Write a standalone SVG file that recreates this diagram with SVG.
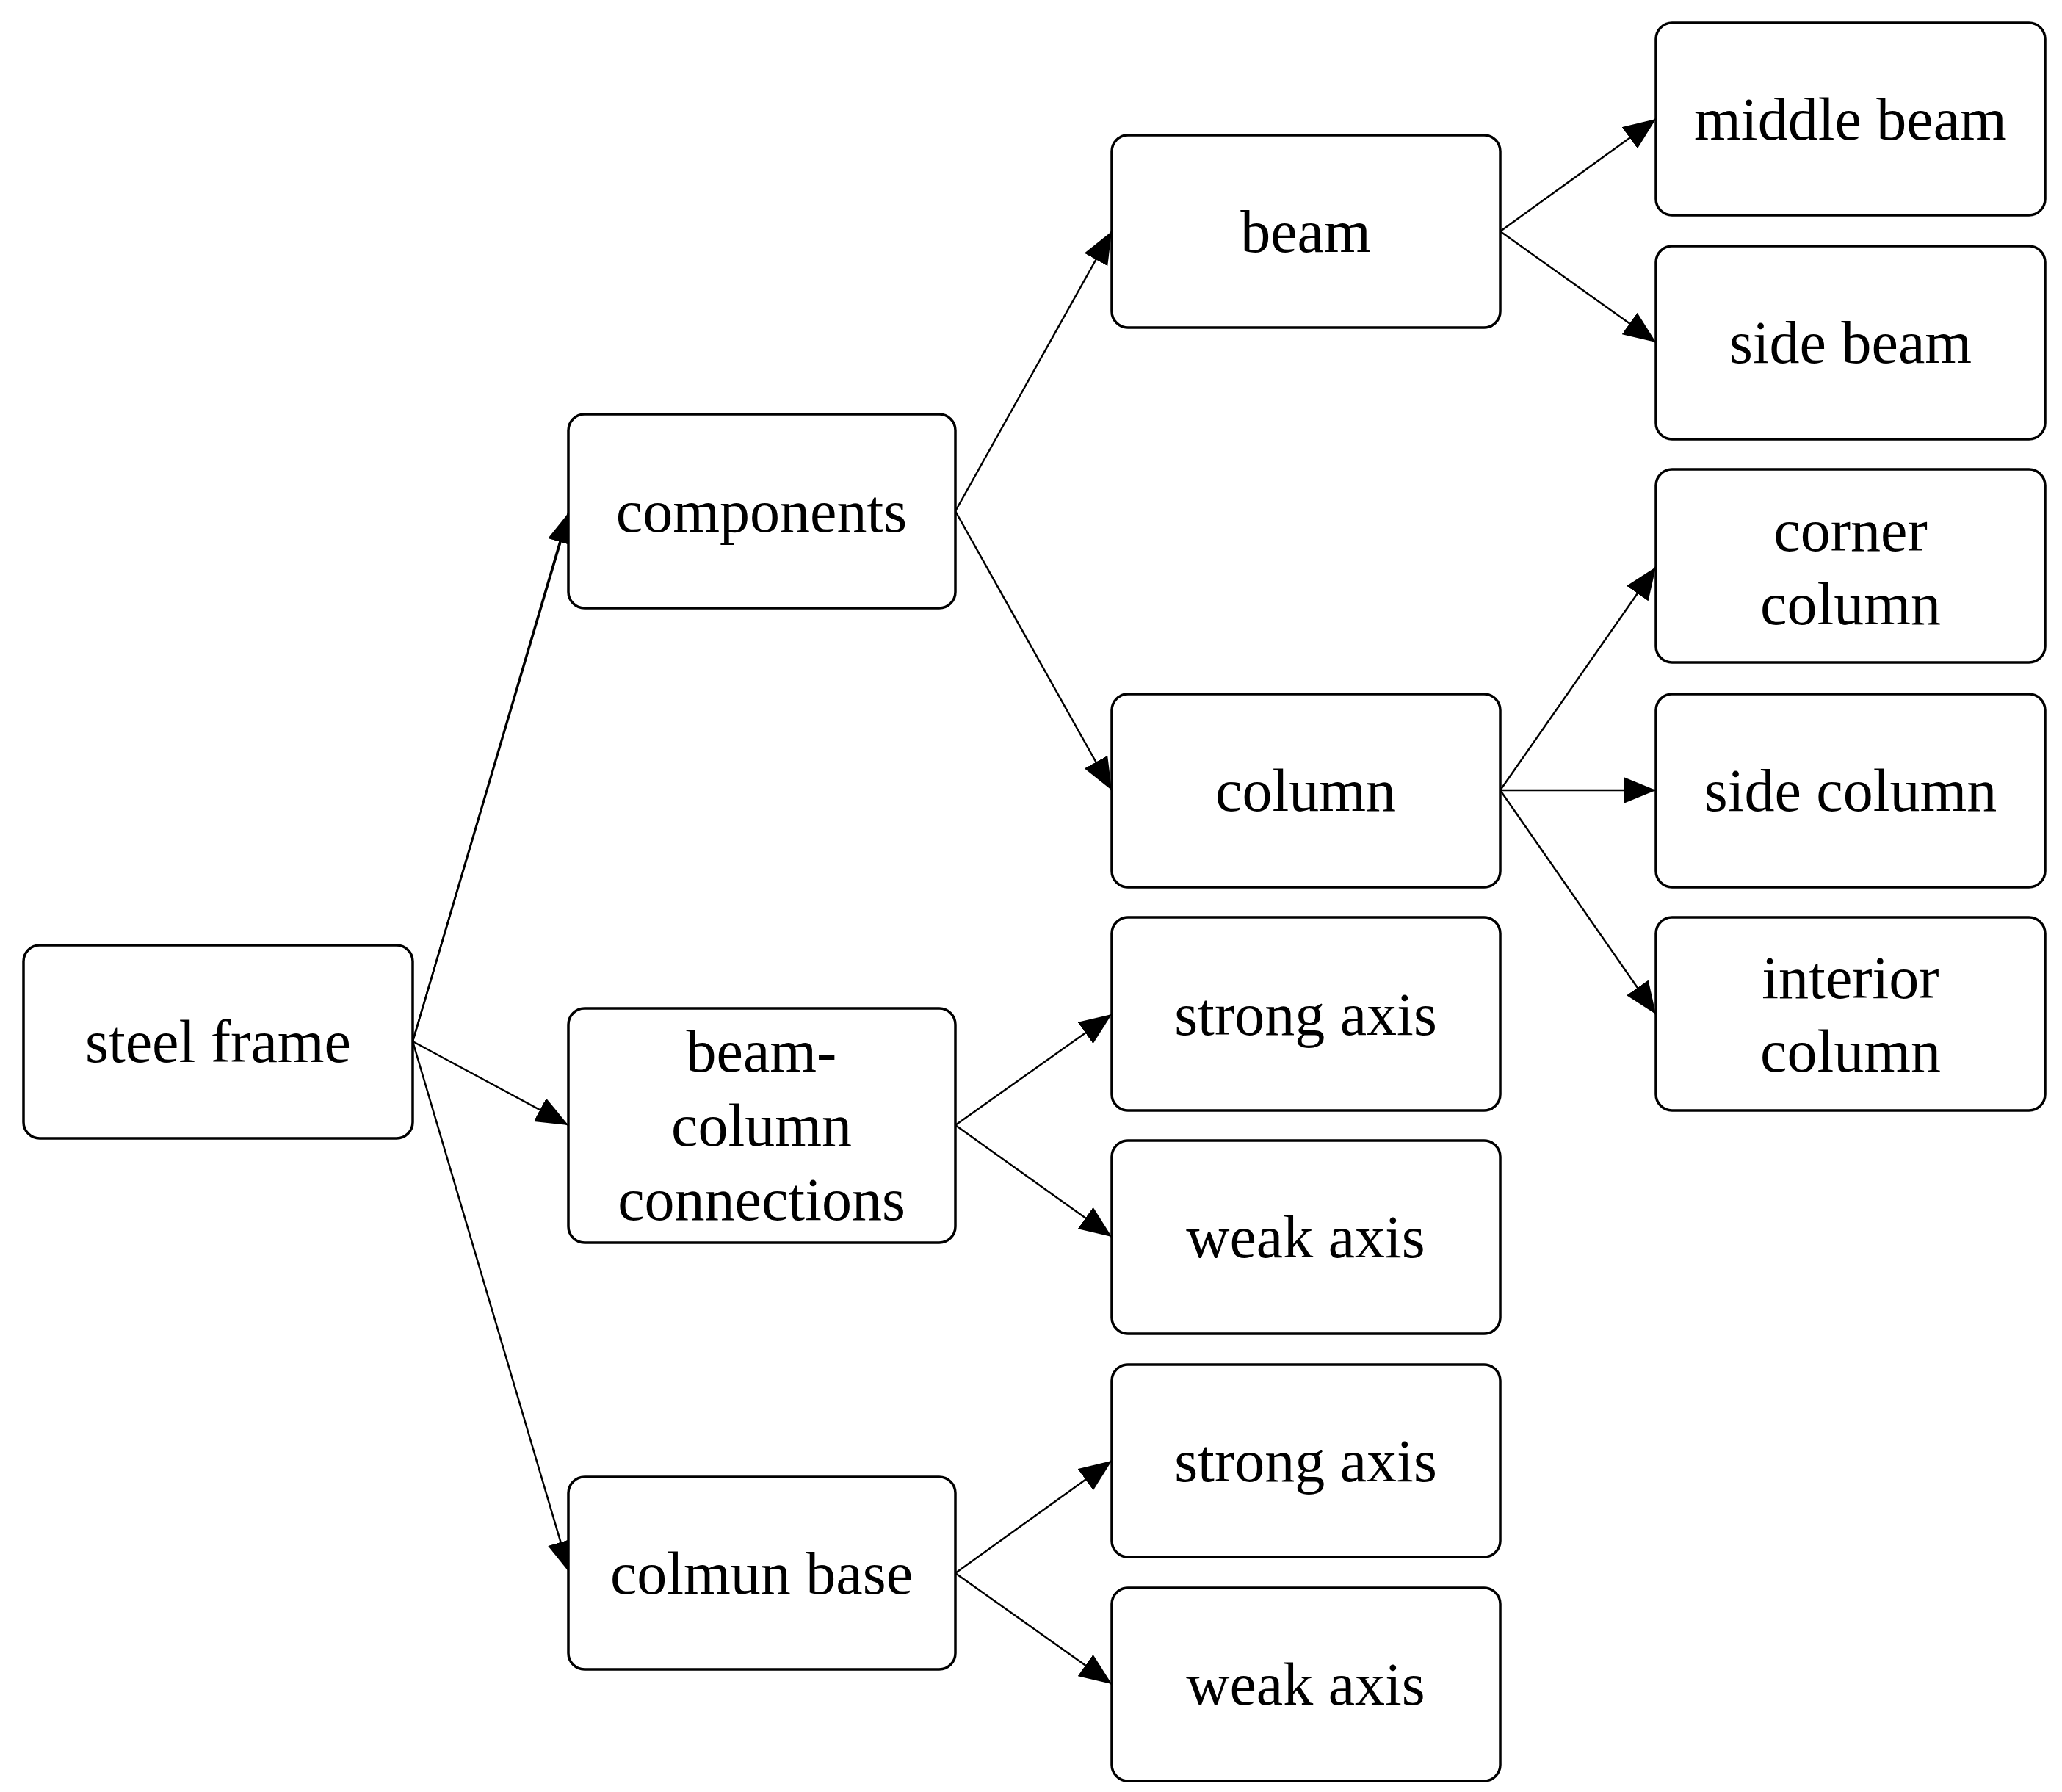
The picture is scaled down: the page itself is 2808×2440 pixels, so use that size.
<svg xmlns="http://www.w3.org/2000/svg" width="2808" height="2440" viewBox="0 0 2808 2440">
<style>
rect{fill:#fff;stroke:#000;stroke-width:3.5}
text{font-family:"Liberation Serif","DejaVu Serif",serif;font-size:82px;text-anchor:middle;dominant-baseline:central;fill:#000}
.c line{stroke:#000;stroke-width:2.5;marker-end:url(#a)}
</style>
<defs><marker id="a" markerWidth="14" markerHeight="12" refX="14" refY="6" orient="auto" markerUnits="userSpaceOnUse" viewBox="0 0 14 12"><path d="M0,0L14,6L0,12z" fill="#000"/></marker></defs>
<rect x="0" y="0" width="2808" height="2440" style="stroke:none"/>
<g class="c">
<line x1="562" y1="1418" x2="774" y2="698" style="marker-end:none"/>
</g>
<defs><marker id="b" markerWidth="44" markerHeight="36" refX="44" refY="18" orient="auto" markerUnits="userSpaceOnUse" viewBox="0 0 44 36"><path d="M0,0L44,18L0,36z" fill="#000"/></marker></defs>
<g id="connectors" style="stroke:#000;stroke-width:2.5;fill:none">
<line x1="562" y1="1418" x2="776" y2="696" marker-end="url(#b)"/>
<line x1="562" y1="1418" x2="774" y2="1532" marker-end="url(#b)"/>
<line x1="562" y1="1418" x2="776" y2="2142" marker-end="url(#b)"/>
<line x1="1301" y1="696" x2="1514" y2="315" marker-end="url(#b)"/>
<line x1="1301" y1="696" x2="1514" y2="1076" marker-end="url(#b)"/>
<line x1="2043" y1="315" x2="2255" y2="162" marker-end="url(#b)"/>
<line x1="2043" y1="315" x2="2255" y2="466" marker-end="url(#b)"/>
<line x1="2043" y1="1076" x2="2255" y2="772" marker-end="url(#b)"/>
<line x1="2043" y1="1076" x2="2255" y2="1076" marker-end="url(#b)"/>
<line x1="2043" y1="1076" x2="2255" y2="1381" marker-end="url(#b)"/>
<line x1="1301" y1="1532" x2="1514" y2="1381" marker-end="url(#b)"/>
<line x1="1301" y1="1532" x2="1514" y2="1684" marker-end="url(#b)"/>
<line x1="1301" y1="2142" x2="1514" y2="1989" marker-end="url(#b)"/>
<line x1="1301" y1="2142" x2="1514" y2="2293" marker-end="url(#b)"/>
</g>
<g id="n1"><rect x="32" y="1287" width="530" height="263" rx="22"/><text x="297" y="1418">steel frame</text></g>
<g id="n2"><rect x="774" y="564" width="527" height="264" rx="22"/><text x="1037" y="696">components</text></g>
<g id="n3"><rect x="774" y="1373" width="527" height="319" rx="22"/><text x="1037" y="1431">beam-</text><text x="1037" y="1532">column</text><text x="1037" y="1633">connections</text></g>
<g id="n4"><rect x="774" y="2011" width="527" height="262" rx="22"/><text x="1037" y="2142">colmun base</text></g>
<g id="n5"><rect x="1514" y="184" width="529" height="262" rx="22"/><text x="1778" y="315">beam</text></g>
<g id="n6"><rect x="1514" y="945" width="529" height="263" rx="22"/><text x="1778" y="1076">column</text></g>
<g id="n7"><rect x="1514" y="1249" width="529" height="263" rx="22"/><text x="1778" y="1381">strong axis</text></g>
<g id="n8"><rect x="1514" y="1553" width="529" height="263" rx="22"/><text x="1778" y="1684">weak axis</text></g>
<g id="n9"><rect x="1514" y="1858" width="529" height="262" rx="22"/><text x="1778" y="1989">strong axis</text></g>
<g id="n10"><rect x="1514" y="2162" width="529" height="263" rx="22"/><text x="1778" y="2293">weak axis</text></g>
<g id="n11"><rect x="2255" y="31" width="530" height="262" rx="22"/><text x="2520" y="162">middle beam</text></g>
<g id="n12"><rect x="2255" y="335" width="530" height="263" rx="22"/><text x="2520" y="466">side beam</text></g>
<g id="n13"><rect x="2255" y="639" width="530" height="263" rx="22"/><text x="2520" y="722">corner</text><text x="2520" y="822">column</text></g>
<g id="n14"><rect x="2255" y="945" width="530" height="263" rx="22"/><text x="2520" y="1076">side column</text></g>
<g id="n15"><rect x="2255" y="1249" width="530" height="263" rx="22"/><text x="2520" y="1331">interior</text><text x="2520" y="1431">column</text></g>
</svg>
